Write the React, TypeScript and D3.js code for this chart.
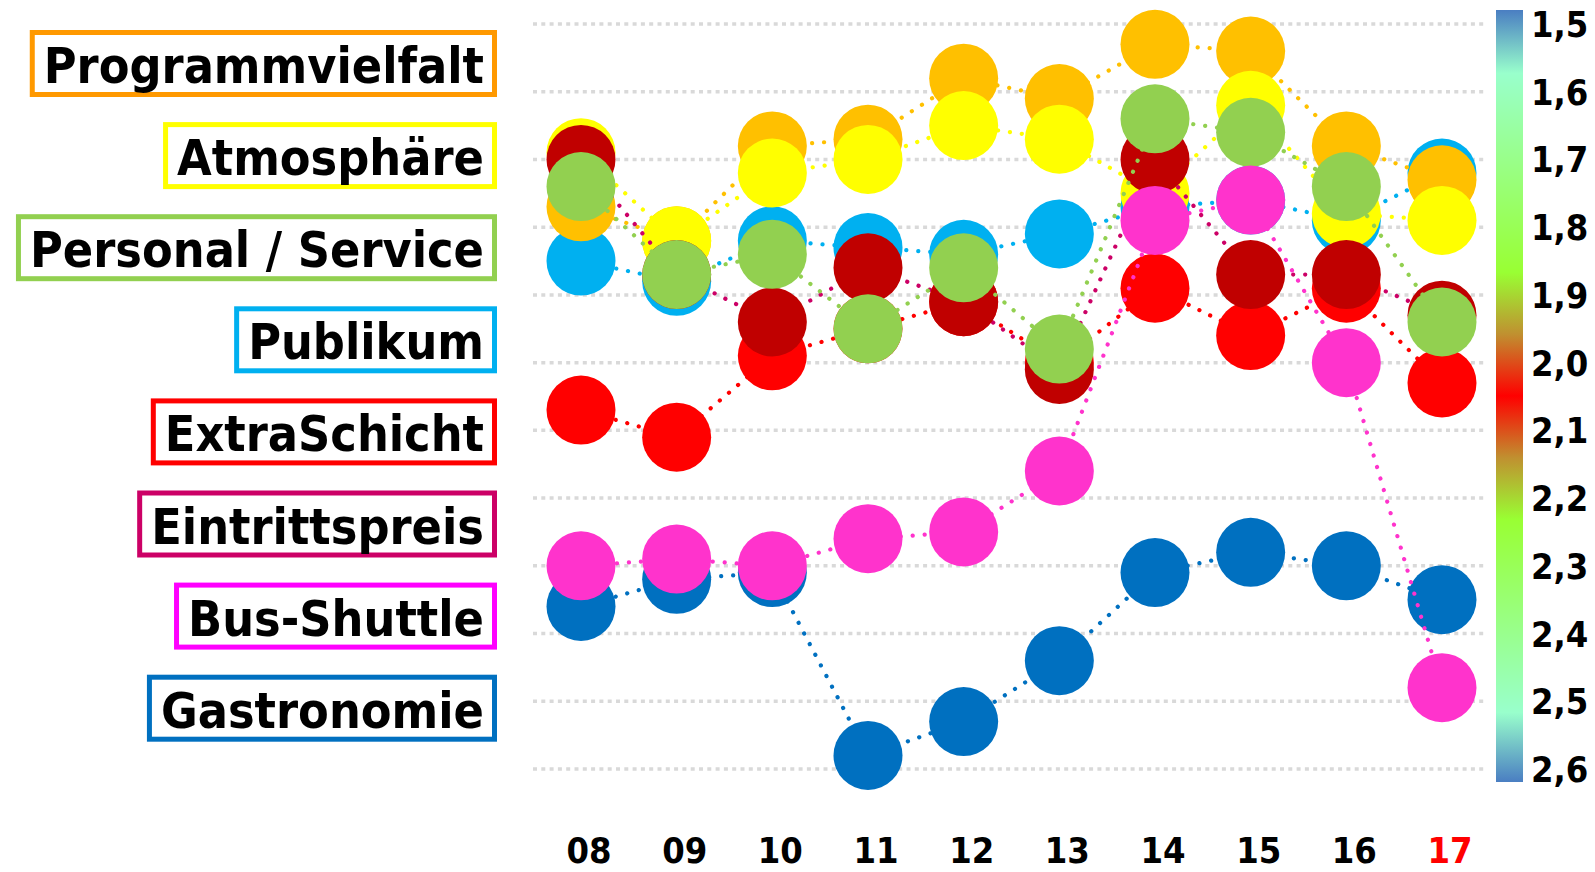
import React, { useRef, useEffect } from 'react';
import * as d3 from 'd3';

const years = ['08', '09', '10', '11', '12', '13', '14', '15', '16', '17'];
const yTicks = [1.5, 1.6, 1.7, 1.8, 1.9, 2.0, 2.1, 2.2, 2.3, 2.4, 2.5, 2.6];

// legend order (top to bottom)
const legendNames = ['Programmvielfalt', 'Atmosphäre', 'Personal / Service', 'Publikum', 'ExtraSchicht', 'Eintrittspreis', 'Bus-Shuttle', 'Gastronomie'];
const legendColors = ['#FF9900', '#FFFF00', '#92D050', '#00B0F0', '#FF0000', '#CC0066', '#FF00FF', '#0070C0'];

// values per series
const programmvielfalt = [1.77, 1.82, 1.68, 1.67, 1.58, 1.61, 1.53, 1.54, 1.68, 1.73];
const atmosphaere = [1.69, 1.82, 1.72, 1.70, 1.65, 1.67, 1.75, 1.62, 1.78, 1.79];
const personal = [1.74, 1.87, 1.84, 1.95, 1.86, 1.98, 1.64, 1.66, 1.74, 1.94];
const publikum = [1.85, 1.88, 1.82, 1.83, 1.84, 1.81, 1.77, 1.76, 1.79, 1.72];
const extraSchicht = [2.07, 2.11, 1.99, 1.95, 1.91, 2.00, 1.89, 1.96, 1.89, 2.03];
const eintrittspreis = [1.70, 1.87, 1.94, 1.86, 1.91, 2.01, 1.70, 1.87, 1.87, 1.93];
const busShuttle = [2.30, 2.29, 2.30, 2.26, 2.25, 2.16, 1.79, 1.76, 2.00, 2.48];
const gastronomie = [2.36, 2.32, 2.31, 2.58, 2.53, 2.44, 2.31, 2.28, 2.30, 2.35];

// drawing order (bottom to top)
const series = [
  { name: 'Gastronomie', values: gastronomie, fill: '#0070C0', line: '#0070C0' },
  { name: 'ExtraSchicht', values: extraSchicht, fill: '#FF0000', line: '#FF0000' },
  { name: 'Publikum', values: publikum, fill: '#00B0F0', line: '#00B0F0' },
  { name: 'Programmvielfalt', values: programmvielfalt, fill: '#FFC000', line: '#FFC000' },
  { name: 'Atmosphäre', values: atmosphaere, fill: '#FFFF00', line: '#FFFF00' },
  { name: 'Eintrittspreis', values: eintrittspreis, fill: '#C00000', line: '#CC0066' },
  { name: 'Personal / Service', values: personal, fill: '#92D050', line: '#92D050' },
  { name: 'Bus-Shuttle', values: busShuttle, fill: '#FF33CC', line: '#FF33CC' },
];

const gradStops = [
  [0, '#4A7EC2'], [0.082, '#99FFCC'], [0.34, '#99FF33'], [0.42, '#C09030'],
  [0.5, '#FF0000'], [0.58, '#C09030'], [0.66, '#99FF33'], [0.91, '#99FFCC'], [1, '#4A7EC2'],
];

const W = 1595;
const H = 872;
const FONT = "'DejaVu Sans Condensed', 'DejaVu Sans', sans-serif";

const App = () => {
  const ref = useRef<SVGSVGElement>(null);

  useEffect(() => {
    if (!ref.current) return;
    const svg = d3.select(ref.current);
    svg.selectAll('*').remove();

    const x = d3.scalePoint().domain(years).range([581, 1442]);
    const y = d3.scaleLinear().domain([1.5, 2.6]).range([24, 769]);

    // gridlines
    svg.append('g').selectAll('line').data(yTicks).enter().append('line')
      .attr('x1', 533).attr('x2', 1485)
      .attr('y1', d => y(d)).attr('y2', d => y(d))
      .attr('stroke', '#D9D9D9').attr('stroke-width', 3.5)
      .attr('stroke-dasharray', '4 4.3');

    // colour bar
    const grad = svg.append('defs').append('linearGradient')
      .attr('id', 'cbar').attr('x1', 0).attr('x2', 0).attr('y1', 0).attr('y2', 1);
    gradStops.forEach(s => grad.append('stop').attr('offset', s[0]).attr('stop-color', s[1]));
    svg.append('rect').attr('x', 1496).attr('y', 10).attr('width', 27).attr('height', 772)
      .attr('fill', 'url(#cbar)');

    // right axis labels
    svg.append('g').selectAll('text').data(yTicks).enter().append('text')
      .attr('x', 1531).attr('y', d => y(d) + 13)
      .attr('font-family', FONT).attr('font-stretch', 'condensed')
      .attr('font-weight', 'bold').attr('font-size', 36)
      .text(d => d3.format('.1f')(d).replace('.', ','));

    // x labels
    svg.append('g').selectAll('text').data(years).enter().append('text')
      .attr('x', d => (x(d) as number) + 8).attr('y', 863)
      .attr('text-anchor', 'middle')
      .attr('font-family', FONT).attr('font-stretch', 'condensed')
      .attr('font-weight', 'bold').attr('font-size', 36)
      .attr('fill', d => (d === '17' ? '#FF0000' : '#000'))
      .text(d => d);

    // series
    const line = d3.line<number>().x((_, i) => x(years[i]) as number).y(d => y(d));
    series.forEach(s => {
      const g = svg.append('g');
      g.append('path').attr('d', line(s.values))
        .attr('fill', 'none').attr('stroke', s.line).attr('stroke-width', 4.2)
        .attr('stroke-linecap', 'round').attr('stroke-dasharray', '0.1 11.9');
      g.selectAll('circle').data(s.values).enter().append('circle')
        .attr('cx', (_, i) => x(years[i]) as number).attr('cy', d => y(d))
        .attr('r', 34.5).attr('fill', s.fill);
    });

    // legend
    const lg = svg.append('g');
    legendNames.forEach((name, i) => {
      const top = 30 + i * 92.1;
      const t = lg.append('text')
        .attr('x', 484).attr('y', top + 53).attr('text-anchor', 'end')
        .attr('font-family', FONT).attr('font-stretch', 'condensed')
        .attr('font-weight', 'bold').attr('font-size', 49.8)
        .text(name);
      const tw = (t.node() as SVGTextElement).getComputedTextLength();
      const left = 484 - tw - 14;
      lg.insert('rect', 'text')
        .attr('x', left + 2.5).attr('y', top + 2.5)
        .attr('width', 497 - left - 5).attr('height', 62)
        .attr('fill', '#fff').attr('stroke', legendColors[i]).attr('stroke-width', 5);
    });
  }, []);

  return (
    <svg ref={ref} width={W} height={H}
      style={{ position: 'absolute', left: 0, top: 0, background: '#fff' }} />
  );
};

export default App;
